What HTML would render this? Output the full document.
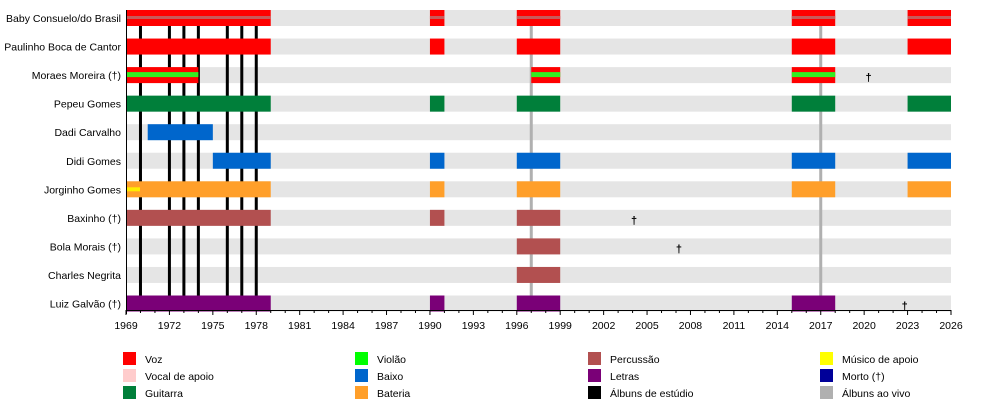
<!DOCTYPE html>
<html><head><meta charset="utf-8"><style>
html,body{margin:0;padding:0;background:#fff;width:1000px;height:420px;overflow:hidden}
svg text{font-family:"Liberation Sans",Arial,sans-serif;font-size:10.5px;fill:#000}
</style></head><body>
<svg id="s" width="1000" height="420" xmlns="http://www.w3.org/2000/svg"></svg>
<script>
(function(){
const s=document.getElementById('s');
const X=y=>126+(y-1969)*825/57;
let h='';
const R=(x1,y,x2,hh,c)=>{h+=`<rect x="${x1}" y="${y}" width="${x2-x1}" height="${hh}" fill="${c}"/>`};
const rows=[
["Baby Consuelo/do Brasil",[[1969,1979,'#ff0000'],[1990,1991,'#ff0000'],[1996,1999,'#ff0000'],[2015,2018,'#ff0000'],[2023,2026,'#ff0000']],[['#c85a5a',6,3]],null],
["Paulinho Boca de Cantor",[[1969,1979,'#ff0000'],[1990,1991,'#ff0000'],[1996,1999,'#ff0000'],[2015,2018,'#ff0000'],[2023,2026,'#ff0000']],null,null],
["Moraes Moreira (†)",[[1969,1974,'#ff0000'],[1997,1999,'#ff0000'],[2015,2018,'#ff0000']],[['#33ee22',5,5]],2020.3],
["Pepeu Gomes",[[1969,1979,'#007f3a'],[1990,1991,'#007f3a'],[1996,1999,'#007f3a'],[2015,2018,'#007f3a'],[2023,2026,'#007f3a']],null,null],
["Dadi Carvalho",[[1970.5,1975,'#0066cc']],null,null],
["Didi Gomes",[[1975,1979,'#0066cc'],[1990,1991,'#0066cc'],[1996,1999,'#0066cc'],[2015,2018,'#0066cc'],[2023,2026,'#0066cc']],null,null],
["Jorginho Gomes",[[1969,1979,'#ff9f2a'],[1990,1991,'#ff9f2a'],[1996,1999,'#ff9f2a'],[2015,2018,'#ff9f2a'],[2023,2026,'#ff9f2a']],'yel',null],
["Baxinho (†)",[[1969,1979,'#b25050'],[1990,1991,'#b25050'],[1996,1999,'#b25050']],null,2004.1],
["Bola Morais (†)",[[1996,1999,'#b25050']],null,2007.2],
["Charles Negrita",[[1996,1999,'#b25050']],null,null],
["Luiz Galvão (†)",[[1969,1979,'#7a0077'],[1990,1991,'#7a0077'],[1996,1999,'#7a0077'],[2015,2018,'#7a0077']],null,2022.8]
];
const rowTop=i=>10+i*28.55;
rows.forEach((r,i)=>{R(126,rowTop(i),951,16,'#e5e5e5');});
[1970,1972,1973,1974,1976,1977,1978].forEach(y=>R(X(y)-1.5,10,X(y)+1.5,300,'#000'));
[1997,2017].forEach(y=>R(X(y)-1.5,10,X(y)+1.5,300,'#b0b0b0'));
rows.forEach((r,i)=>{
 const t=rowTop(i);
 r[1].forEach(b=>{
  R(X(b[0]),t,X(b[1]),16,b[2]);
  if(r[2]&&r[2]!=='yel'){r[2].forEach(st=>R(X(b[0]),t+st[1],X(b[1]),st[2],st[0]));}
 });
 if(r[2]==='yel')R(126,t+6,140,4,'#ffee00');
 h+=`<text x="121" y="${t+12}" text-anchor="end">${r[0]}</text>`;
 if(r[3])h+=`<text x="${X(r[3])}" y="${t+14}" text-anchor="middle" style="font-size:11px;font-weight:bold">†</text>`;
});
h+=`<line x1="126" y1="310.5" x2="951" y2="310.5" stroke="#000" stroke-width="1"/>`;
h+=`<line x1="126.5" y1="10" x2="126.5" y2="314" stroke="#000" stroke-width="1"/>`;
for(let y=1969;y<=2026;y++){const x=X(y);const maj=(y-1969)%3==0;
 h+=`<line x1="${x}" y1="310" x2="${x}" y2="${maj?315:313}" stroke="#000" stroke-width="1"/>`;
 if(maj)h+=`<text x="${x}" y="329" text-anchor="middle">${y}</text>`;}
const leg=[[123,'#ff0000','Voz'],[123,'#ffcccc','Vocal de apoio'],[123,'#007f3a','Guitarra'],
[355,'#00ff00','Violão'],[355,'#0066cc','Baixo'],[355,'#ff9f2a','Bateria'],
[588,'#b25050','Percussão'],[588,'#7a0077','Letras'],[588,'#000000','Álbuns de estúdio'],
[820,'#ffff00','Músico de apoio'],[820,'#000099','Morto (†)'],[820,'#b0b0b0','Álbuns ao vivo']];
leg.forEach((l,k)=>{const y=352+(k%3)*17;R(l[0],y,l[0]+13,13,l[1]);h+=`<text x="${l[0]+22}" y="${y+11}">${l[2]}</text>`;});
s.innerHTML=h;
})();
</script>
</body></html>
